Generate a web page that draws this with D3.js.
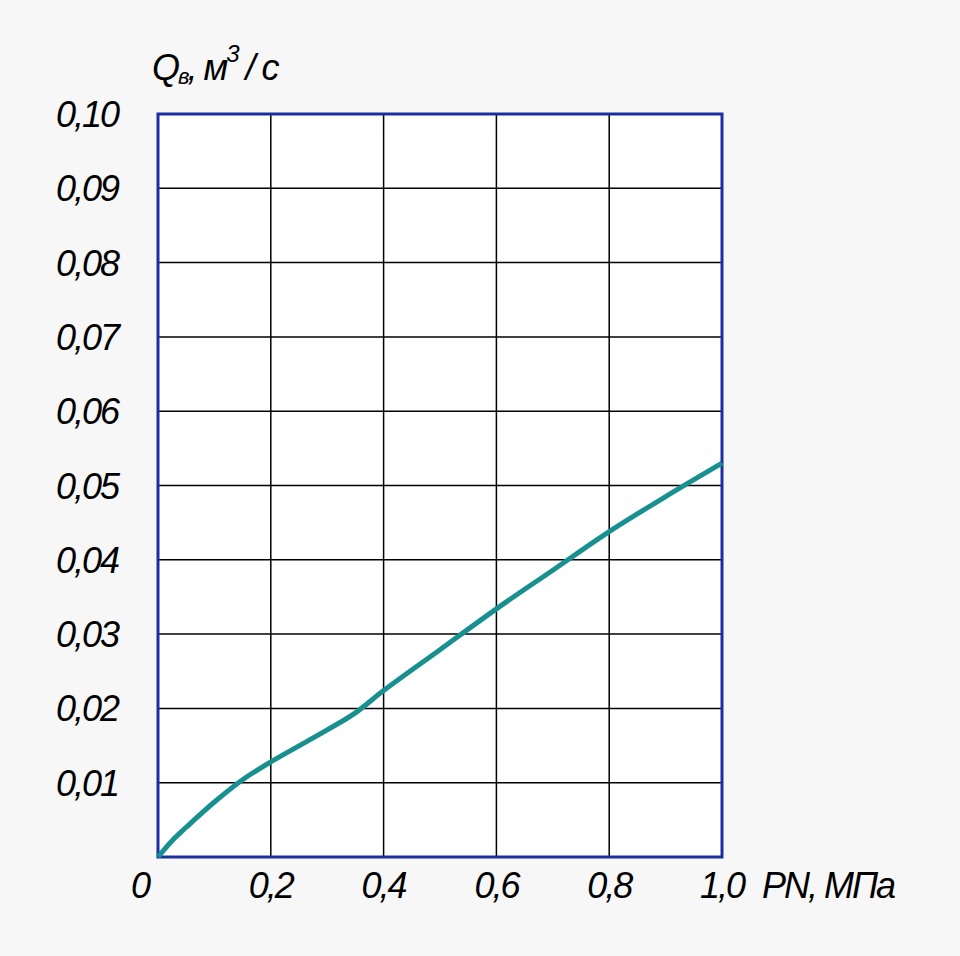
<!DOCTYPE html>
<html><head><meta charset="utf-8">
<script src="https://d3js.org/d3.v7.min.js"></script>
<style>body{margin:0;background:#f7f7f7}</style></head>
<body><svg id="c" width="960" height="956"></svg>
<script>
const pressure = [0,0.025,0.05,0.1,0.15,0.2,0.3,0.35,0.4,0.5,0.6,0.7,0.8,0.9,1.0];
const flow = [0,0.0022,0.0040,0.0074,0.0104,0.0128,0.0171,0.0194,0.0224,0.0279,0.0334,0.0386,0.0438,0.0485,0.0530];
const xTicks = [0,0.2,0.4,0.6,0.8,1.0];
const xTickLabels = ["0","0,2","0,4","0,6","0,8","1,0"];
const yTicks = [0.01,0.02,0.03,0.04,0.05,0.06,0.07,0.08,0.09,0.10];
const yTickLabels = ["0,01","0,02","0,03","0,04","0,05","0,06","0,07","0,08","0,09","0,10"];

const svg = d3.select("#c");
const L=158,R=722,T=114,B=857;
const x = d3.scaleLinear().domain([0,1]).range([L,R]);
const y = d3.scaleLinear().domain([0,0.1]).range([B,T]);
svg.append("rect").attr("x",L).attr("y",T).attr("width",R-L).attr("height",B-T).attr("fill","#fff");
const font="'Liberation Sans',Arial,sans-serif";
svg.append("g").selectAll("line").data(xTicks.slice(1,-1)).join("line")
 .attr("x1",d=>x(d)).attr("x2",d=>x(d)).attr("y1",T).attr("y2",B).attr("stroke","#000").attr("stroke-width",1.5);
svg.append("g").selectAll("line").data(yTicks.slice(0,-1)).join("line")
 .attr("x1",L).attr("x2",R).attr("y1",d=>y(d)).attr("y2",d=>y(d)).attr("stroke","#000").attr("stroke-width",1.5);
svg.append("rect").attr("x",L).attr("y",T).attr("width",R-L).attr("height",B-T).attr("fill","none").attr("stroke","#1a2ea0").attr("stroke-width",3);
svg.append("path").datum(pressure.map((p,i)=>[p,flow[i]]))
 .attr("d",d3.line().x(d=>x(d[0])).y(d=>y(d[1])).curve(d3.curveCatmullRom))
 .attr("fill","none").attr("stroke","#189090").attr("stroke-width",5);
const tf=t=>t.attr("font-family",font).attr("font-style","italic").attr("font-size",36).attr("letter-spacing",-2).attr("fill","#000");
svg.append("g").selectAll("text").data(yTicks).join("text")
 .attr("x",118).attr("y",d=>y(d)+13).attr("text-anchor","end").call(tf).text((d,i)=>yTickLabels[i]);
svg.append("g").selectAll("text").data(xTicks).join("text")
 .attr("x",(d,i)=>i==0?140:x(d)).attr("y",898).attr("text-anchor","middle").call(tf).text((d,i)=>xTickLabels[i]);
svg.append("text").attr("x",762).attr("y",898).call(tf).text("PN, МПа");
const t=svg.append("text").attr("x",152).attr("y",80).call(tf);
t.append("tspan").text("Q");
t.append("tspan").attr("font-size",22).attr("dy",4).text("в");
t.append("tspan").attr("dy",-4).text(", м");
t.append("tspan").attr("font-size",24).attr("dy",-18).text("3");
t.append("tspan").attr("dy",18).text(" / с");
</script></body></html>
